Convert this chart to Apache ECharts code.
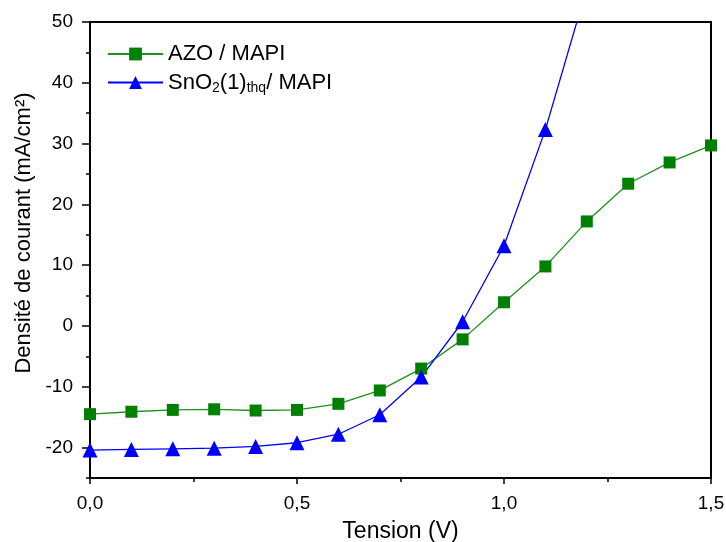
<!DOCTYPE html>
<html><head><meta charset="utf-8">
<script src="https://cdn.jsdelivr.net/npm/echarts@6/dist/echarts.min.js"></script>
<style>html,body{margin:0;padding:0;background:#fff}#c{width:726px;height:542px}</style>
</head><body><div id="c"></div>
<script>
const tension = [0.0,0.1,0.2,0.3,0.4,0.5,0.6,0.7,0.8,0.9,1.0,1.1,1.2,1.3,1.4,1.5];
const azoMapi = [-14.5,-14.1,-13.8,-13.7,-13.9,-13.8,-12.8,-10.6,-7.0,-2.2,3.9,9.8,17.2,23.4,26.9,29.7];
const sno2Mapi = [-20.4,-20.3,-20.2,-20.1,-19.8,-19.2,-17.8,-14.6,-8.4,0.7,13.2,32.3,55.6];
const yLabelValues = [-20,-10,0,10,20,30,40,50];
const yMinorValues = [-25,-15,-5,5,15,25,35,45];
const seriesNames = ['AZO / MAPI','SnO2(1)thq/ MAPI'];

const font = 'Liberation Sans, Arial, sans-serif';
const chart = echarts.init(document.getElementById('c'));
const pair = (xs, ys) => ys.map((v,i)=>[xs[i], v]);
const fmt = v => v.toFixed(1).replace('.', ',');

chart.setOption({
  animation:false,
  grid:{left:90,right:15,top:22,bottom:64,show:true,borderColor:'#000',borderWidth:2,containLabel:false,outerBoundsMode:'none'},
  legend:{
    orient:'vertical', left:102, top:38, itemGap:5, itemWidth:55, itemHeight:16,
    data:seriesNames,
    formatter: n => n===seriesNames[0] ? '{n|AZO / MAPI}' : '{n|SnO}{s|2}{n|(1)}{s|thq}{n|/ MAPI}',
    textStyle:{fontFamily:font,fontSize:22,color:'#000',
      rich:{n:{fontFamily:font,fontSize:22,color:'#000',lineHeight:24},
            s:{fontFamily:font,fontSize:14,color:'#000',lineHeight:24,padding:[11,0,0,0]}}}
  },
  xAxis:{type:'value',min:0,max:1.5,interval:0.5,
    name:'Tension (V)',nameLocation:'middle',nameGap:42,
    nameTextStyle:{fontFamily:font,fontSize:23,color:'#000'},
    axisLine:{onZero:false,lineStyle:{color:'#000',width:2}},
    axisTick:{show:true,inside:false,length:6,lineStyle:{color:'#000',width:1.5}},
    minorTick:{show:true,splitNumber:2,length:4,lineStyle:{color:'#000',width:1.5}},
    splitLine:{show:false},
    axisLabel:{fontFamily:font,fontSize:19,color:'#000',margin:16,formatter:fmt}
  },
  yAxis:[{type:'value',min:-25,max:50,
    name:'Densité de courant (mA/cm²)',nameLocation:'middle',nameGap:42,
    nameTextStyle:{fontFamily:font,fontSize:22,color:'#000',padding:[0,0,0,34]},
    axisLine:{onZero:false,lineStyle:{color:'#000',width:2}},
    axisTick:{show:true,inside:false,length:8,customValues:yLabelValues,lineStyle:{color:'#000',width:1.5}},
    splitLine:{show:false},
    axisLabel:{fontFamily:font,fontSize:19,color:'#000',margin:17,customValues:yLabelValues}
  },{type:'value',min:-25,max:50,position:'left',
    axisLine:{show:false,onZero:false},
    axisTick:{show:true,inside:false,length:4,customValues:yMinorValues,lineStyle:{color:'#000',width:1.5}},
    splitLine:{show:false},axisLabel:{show:false}
  }],
  series:[
    {name:seriesNames[0],type:'line',data:pair(tension,azoMapi),symbol:'rect',symbolSize:12,
     lineStyle:{color:'#1f8f1f',width:1.3},itemStyle:{color:'#008000'},clip:true},
    {name:seriesNames[1],type:'line',data:pair(tension,sno2Mapi),symbol:'triangle',symbolSize:15,
     lineStyle:{color:'#0000ff',width:1.3},itemStyle:{color:'#0000ff'},clip:true}
  ]
});
</script></body></html>
